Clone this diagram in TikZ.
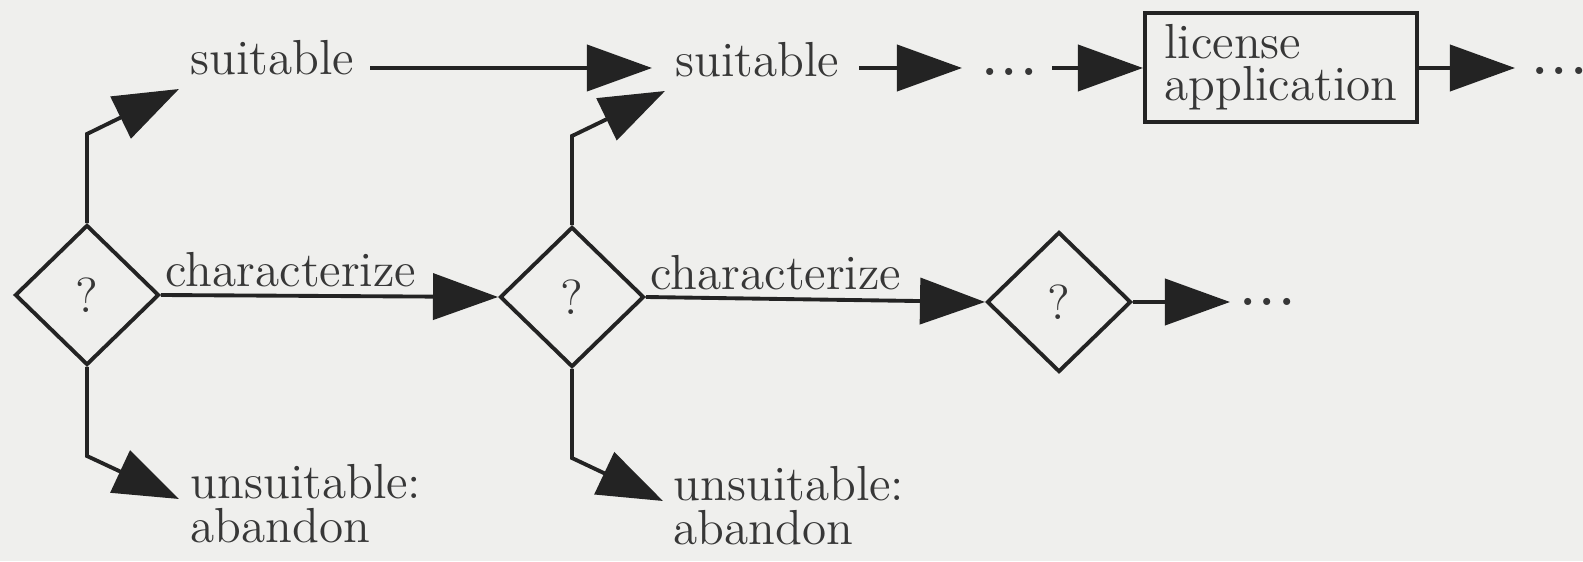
\documentclass[tikz,border=0pt]{standalone}
\usetikzlibrary{arrows.meta,shapes.geometric,calc}
\definecolor{paper}{RGB}{239,239,237}
\definecolor{ink}{RGB}{35,35,35}
\definecolor{type}{RGB}{55,55,55}
\newcommand\dotsrow{{\bfseries .\kern1.1pt.\kern1.1pt.}}
\begin{document}
\begin{tikzpicture}[x=0.01cm,y=-0.01cm,
  every node/.style={font=\fontsize{14pt}{12.5pt}\selectfont, text=type},
  lbl/.style={inner sep=0pt, anchor=base west},
  test/.style={diamond, draw=ink, line width=1.1pt, minimum width=1.44cm,
    minimum height=1.40cm, inner sep=0pt},
  box/.style={draw=ink, line width=1.1pt, minimum width=2.72cm,
    minimum height=1.09cm, align=left, inner sep=0pt,
    font=\fontsize{14pt}{12pt}\selectfont},
  flow/.style={draw=ink, line width=1.1pt,
    -{Triangle[length=0.65cm,width=0.46cm]}}]

% page and paper tone
\useasboundingbox (0,0) rectangle (1583,561);
\fill[paper] (0,0) rectangle (1583,561);

% decision points
\node[test] (q1) at (87,295) {?};
\node[test] (q2) at (572,297) {?};
\node[test] (q3) at (1059,302) {?};

% labels along the top row
\node[lbl] (s1) at (190,75) {suitable};
\node[lbl] (s2) at (675,77) {suitable};
\node[lbl] (d1) at (982,76) {\dotsrow};
\node[box] (lic) at (1281,67.5) {license\\application};
\node[lbl] (d2) at (1532,75) {\dotsrow};

% labels along the middle row
\node[lbl] (c1) at (165,287) {characterize};
\node[lbl] (c2) at (650,290) {characterize};
\node[lbl] (d3) at (1240,306) {\dotsrow};

% rejected outcomes (base anchor sits on the last line)
\node[lbl, align=left] (u1) at (190,542) {unsuitable:\\abandon};
\node[lbl, align=left] (u2) at (673,544) {unsuitable:\\abandon};

% bends of the branch connectors
\coordinate (topline) at (0,68);
\coordinate (k1) at (87,134);  \coordinate (t1) at (179,89);
\coordinate (k2) at (87,456);  \coordinate (t2) at (179,499);
\coordinate (k3) at (572,136); \coordinate (t3) at (665,91);
\coordinate (k4) at (572,458); \coordinate (t4) at (663,501);

% branches out of each decision
\draw[flow] (q1.north) -- (k1) -- (t1);
\draw[flow] (q1.south) -- (k2) -- (t2);
\draw[flow] (q2.north) -- (k3) -- (t3);
\draw[flow] (q2.south) -- (k4) -- (t4);

% characterization chain
\draw[flow] (q1.east) -- (q2.west);
\draw[flow] (q2.east) -- (q3.west);
\draw[flow, shorten >=0.1cm] (q3.east) -- (q3.east -| d3.west);

% suitable chain
\draw[flow, shorten <=0.15cm, shorten >=0.23cm] (s1.east |- topline) -- (s2.west |- topline);
\draw[flow, shorten <=0.19cm, shorten >=0.2cm] (s2.east |- topline) -- (d1.west |- topline);
\draw[flow, shorten <=0.15cm] (d1.east |- topline) -- (lic.west |- topline);
\draw[flow, shorten >=0.17cm] (lic.east |- topline) -- (d2.west |- topline);
\end{tikzpicture}
\end{document}
